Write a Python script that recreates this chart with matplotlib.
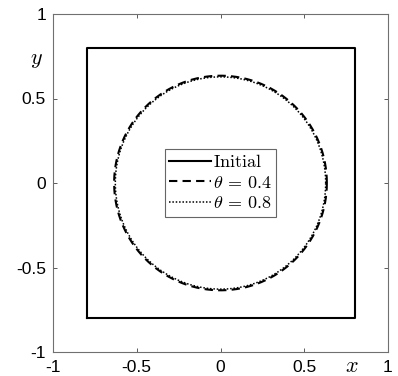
import matplotlib
matplotlib.use('Agg')
import numpy as np
import matplotlib.pyplot as plt
from matplotlib.lines import Line2D

plt.rcParams['font.family'] = ['Liberation Sans', 'DejaVu Sans']
plt.rcParams['mathtext.fontset'] = 'cm'

# data
square_half = 0.8
radii = [0.635, 0.628]          # theta = 0.4, theta = 0.8
labels = [r'$\mathrm{Initial}$', r'$\theta \,=\, 0.4$', r'$\theta \,=\, 0.8$']
ticks = [-1, -0.5, 0, 0.5, 1]
tick_labels = ['-1', '-0.5', '0', '0.5', '1']

fig = plt.figure(figsize=(3.98, 3.76), dpi=100)
ax = fig.add_axes([53 / 398, 24 / 376, 335 / 398, 338 / 376])

# initial square
sx = [-square_half, square_half, square_half, -square_half, -square_half]
sy = [-square_half, -square_half, square_half, square_half, -square_half]
ax.plot(sx, sy, color='black', lw=1.5)

t = np.linspace(0, 2 * np.pi, 400)
ax.plot(radii[0] * np.cos(t), radii[0] * np.sin(t), color='black', lw=1.5, ls=(0, (4, 2.5)))
ax.plot(radii[1] * np.cos(t), radii[1] * np.sin(t), color='black', lw=1.1, ls=(0, (1, 1.2)))

ax.set_xlim(-1, 1)
ax.set_ylim(-1, 1)
ax.set_xticks(ticks)
ax.set_xticklabels(tick_labels)
ax.set_yticks(ticks)
ax.set_yticklabels(tick_labels)
ax.tick_params(direction='in', top=True, right=True, length=3, width=0.6,
               color='#404040', labelsize=12.5)
ax.tick_params(axis='x', pad=6)
ax.tick_params(axis='y', pad=5)
for s in ax.spines.values():
    s.set_color('#707070')
    s.set_linewidth(0.8)

ax.set_xlabel(r'$x$', fontsize=16, va='center')
ax.xaxis.set_label_coords(0.893, -0.042)
ax.set_ylabel(r'$y$', fontsize=16, rotation=0, va='center', ha='center')
ax.yaxis.set_label_coords(-0.048, 0.865)

handles = [Line2D([], [], color='black', lw=1.5),
           Line2D([], [], color='black', lw=1.5, ls=(0, (4, 2.5))),
           Line2D([], [], color='black', lw=1.1, ls=(0, (1, 1.2)))]
leg = ax.legend(handles, labels, loc='center', fontsize=13, frameon=True,
                fancybox=False, handlelength=2.3, handletextpad=0.1,
                borderpad=0.25, labelspacing=0.2, borderaxespad=0)
leg.get_frame().set_edgecolor('#404040')
leg.get_frame().set_linewidth(0.8)

fig.savefig('out.png', dpi=100)
